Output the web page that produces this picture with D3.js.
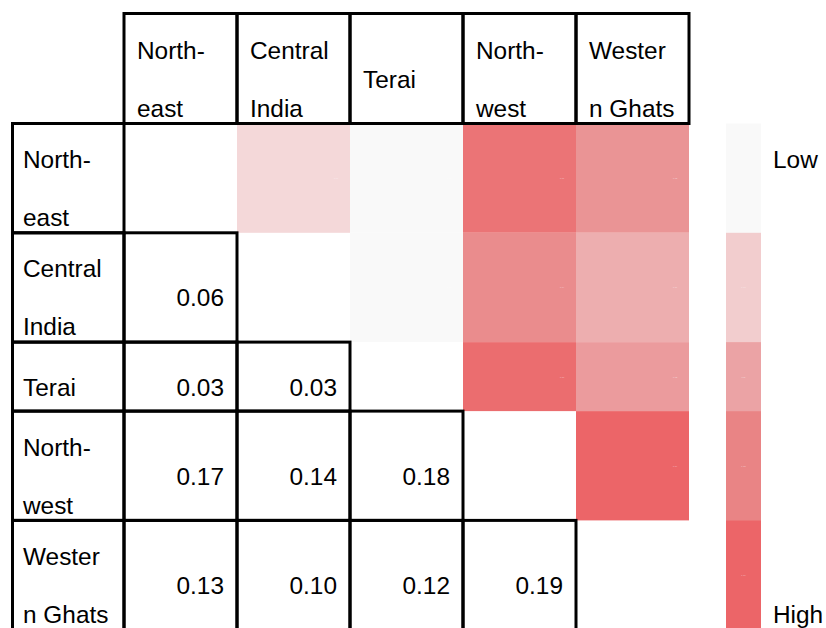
<!DOCTYPE html>
<html>
<head>
<meta charset="utf-8">
<script src="https://cdn.jsdelivr.net/npm/d3@7"></script>
<style>
  html, body { margin: 0; padding: 0; background: #fff; }
  svg { display: block; }
  text { font-family: "Liberation Sans", Arial, Helvetica, sans-serif; }
</style>
</head>
<body>
<svg id="chart" width="826" height="628"></svg>
<script>
// Regions, in table order
const regions = ["North-east", "Central India", "Terai", "North-west", "Western Ghats"];
// How each region name wraps inside its cell
const regionLines = [["North-", "east"], ["Central", "India"], ["Terai"], ["North-", "west"], ["Wester", "n Ghats"]];
// Pairwise values, lower triangle: row i holds values against regions 0..i-1
const pairValues = [
  [],
  [0.06],
  [0.03, 0.03],
  [0.17, 0.14, 0.18],
  [0.13, 0.10, 0.12, 0.19]
];
// Legend bins and their end labels
const legendValues = [0.03, 0.07, 0.11, 0.15, 0.19];
const legendColors = ["#f9f9f9", "#f2cdce", "#eba3a5", "#e98485", "#ec6568"];
const legendLabels = ["Low", "High"];

const svg = d3.select("#chart");

const fontSize = 24.4, lineStep = 58, baseOffset = 48;
const tableLeft = 12.5, colStart = 124, tableRight = 689;
const headerTop = 13.5, headerBottom = 123.5;

const color = d3.scaleLinear().domain(legendValues).range(legendColors).clamp(true);

const x = d3.scaleBand().domain(regions).range([colStart, tableRight]);

// Row heights follow the number of wrapped lines in each row label
const rowH = regionLines.map(l => l.length === 1 ? 69 : 109.3);
const rowTop = [];
rowH.reduce((acc, h, i) => { rowTop[i] = acc; return acc + h; }, headerBottom);
const y = d3.scaleOrdinal().domain(regions).range(rowTop);
const h = d3.scaleOrdinal().domain(regions).range(rowH);

// baseline for line k of an n-line block centred in a cell
function baseline(top, height, n, k) {
  return top + (height - n * lineStep) / 2 + lineStep * k + baseOffset;
}

// Flatten the triangle into cells
const cells = [];
pairValues.forEach((vals, i) => vals.forEach((v, j) => cells.push({ r: regions[i], c: regions[j], value: v })));

// Upper triangle: coloured fills (mirror of each lower cell)
const fills = svg.append("g");
fills.selectAll("rect").data(cells).join("rect")
  .attr("x", d => x(d.r))
  .attr("y", d => y(d.c))
  .attr("width", x.bandwidth())
  .attr("height", d => h(d.c))
  .attr("fill", d => color(d.value));
fills.selectAll("text").data(cells).join("text")
  .attr("x", d => x(d.r) + x.bandwidth() - 16)
  .attr("y", d => y(d.c) + h(d.c) / 2 + 1)
  .attr("font-size", 2.2)
  .attr("fill", "#fff")
  .attr("fill-opacity", 0.6)
  .text(d => d.value.toFixed(2));

// Legend column
const legendX = 726, legendW = 35;
const lg = svg.append("g");
lg.selectAll("rect").data(legendValues).join("rect")
  .attr("x", legendX)
  .attr("y", (d, i) => rowTop[i])
  .attr("width", legendW)
  .attr("height", (d, i) => rowH[i] + 0.5)
  .attr("fill", d => color(d));
lg.selectAll("text.tiny").data(legendValues.slice(1)).join("text")
  .attr("class", "tiny")
  .attr("x", legendX + legendW / 2)
  .attr("y", (d, i) => rowTop[i + 1] + rowH[i + 1] / 2 + 1)
  .attr("text-anchor", "middle")
  .attr("font-size", 2.2)
  .attr("fill", "#fff")
  .attr("fill-opacity", 0.6)
  .text(d => d.toFixed(2));
lg.append("text")
  .attr("x", 773)
  .attr("y", baseline(rowTop[0], rowH[0], 2, 0))
  .attr("font-size", fontSize)
  .text(legendLabels[0]);
lg.append("text")
  .attr("x", 773)
  .attr("y", baseline(rowTop[4], rowH[4], 2, 1))
  .attr("font-size", fontSize)
  .text(legendLabels[1]);

const borders = svg.append("g")
  .attr("fill", "none")
  .attr("stroke", "#000")
  .attr("stroke-width", 3)
  .attr("stroke-linecap", "square");

// Column header cells
borders.selectAll("rect.col").data(regions).join("rect")
  .attr("class", "col")
  .attr("x", d => x(d)).attr("y", headerTop)
  .attr("width", x.bandwidth()).attr("height", headerBottom - headerTop);

// Row header cells
borders.selectAll("rect.row").data(regions).join("rect")
  .attr("class", "row")
  .attr("x", tableLeft).attr("y", d => y(d))
  .attr("width", colStart - tableLeft).attr("height", d => h(d));

// Lower-triangle value cells
borders.selectAll("rect.cell").data(cells).join("rect")
  .attr("class", "cell")
  .attr("x", d => x(d.c)).attr("y", d => y(d.r))
  .attr("width", x.bandwidth()).attr("height", d => h(d.r));

const labels = svg.append("g").attr("font-size", fontSize).attr("fill", "#000");

// Column header labels
regions.forEach((r, i) => {
  const lines = regionLines[i];
  lines.forEach((t, k) => {
    labels.append("text")
      .attr("x", x(r) + 13)
      .attr("y", baseline(headerTop, headerBottom - headerTop, lines.length, k))
      .text(t);
  });
});

// Row header labels
regions.forEach((r, i) => {
  const lines = regionLines[i];
  lines.forEach((t, k) => {
    labels.append("text")
      .attr("x", 23)
      .attr("y", baseline(y(r), h(r), lines.length, k))
      .text(t);
  });
});

// Value labels
labels.selectAll("text.val").data(cells).join("text")
  .attr("class", "val")
  .attr("x", d => x(d.c) + x.bandwidth() - 13)
  .attr("y", d => baseline(y(d.r), h(d.r), 1, 0))
  .attr("text-anchor", "end")
  .text(d => d.value.toFixed(2));
</script>
</body>
</html>
